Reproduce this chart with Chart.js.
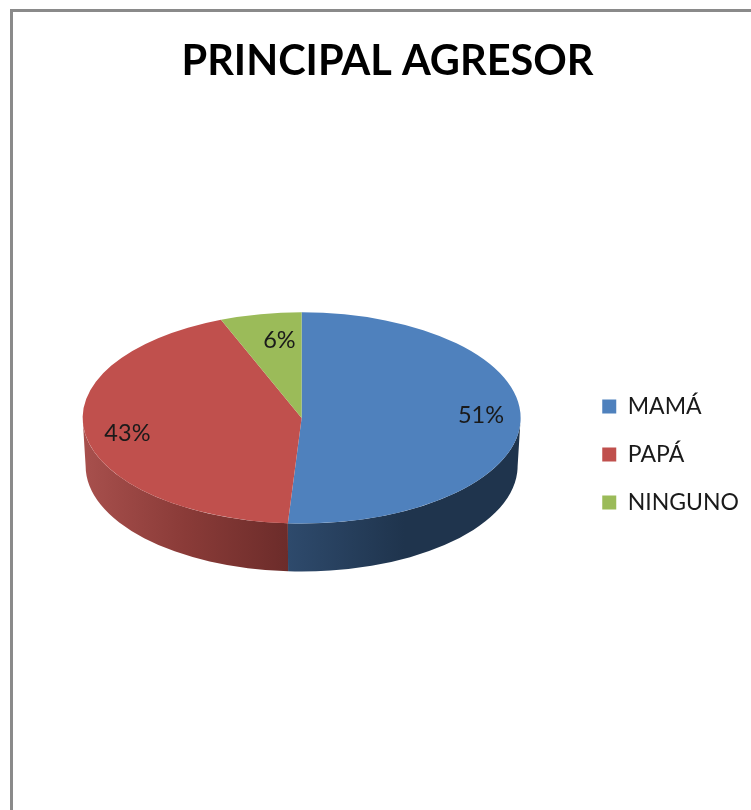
<!DOCTYPE html>
<html lang="es">
<head>
    <meta charset="UTF-8">
    <title>Principal agresor</title>
    <script src="https://cdn.jsdelivr.net/npm/chart.js"></script>
    <style>
        html, body { margin: 0; padding: 0; background: #fff; overflow: hidden; height: 810px; }
        #frame { position: absolute; left: 10px; top: 9px; width: 760px; height: 900px; border: 3px solid #8a8a8a; box-sizing: border-box; }
        #chart { position: absolute; left: 0; top: 0; }
    </style>
</head>
<body>
    <div id="frame"></div>
    <canvas id="chart" width="751" height="810"></canvas>

    <script>
        const categories = ["MAMÁ", "PAPÁ", "NINGUNO"];
        const values = [51, 43, 6];
        const colors = ["#4f81bd", "#c0504d", "#9bbb59"];
        const sideColors = [["#2e4a6c", "#1f344d", "#1f344d"], ["#a8504d", "#8a3b38", "#6c2c2a"], ["#9bbb59", "#9bbb59", "#9bbb59"]];

        const squash = 0.482;
        const depth = 48;
        // nudges for the percent labels, the reference has them placed by hand
        const labelShift = [[2, -5], [1, 2], [11, 7]];

        const tilt = {
            id: "tilt",
            afterLayout(chart) {
                // legend sits lower than the pie in the reference
                chart.legend.top += 85;
                chart.legend.bottom += 85;
                chart.legend.left -= 2;
                chart.legend.right -= 2;
            },
            beforeDatasetsDraw(chart) {
                const ctx = chart.ctx;
                chart.getDatasetMeta(0).data.forEach((arc, i) => {
                    const from = Math.max(arc.startAngle, 0);
                    const to = Math.min(arc.endAngle, Math.PI);
                    if (to <= from) return;
                    const rx = arc.outerRadius;
                    const ry = rx * squash;
                    const x0 = arc.x + rx * Math.cos(to);
                    const x1 = arc.x + rx * Math.cos(from);
                    const grad = ctx.createLinearGradient(x0, 0, x1, 0);
                    sideColors[i].forEach((c, k) => grad.addColorStop(k / 2, c));
                    ctx.save();
                    ctx.beginPath();
                    ctx.ellipse(arc.x, arc.y, rx, ry, 0, from, to);
                    ctx.ellipse(arc.x, arc.y + depth, rx - 3, ry, 0, to, from, true);
                    ctx.closePath();
                    ctx.fillStyle = grad;
                    ctx.fill();
                    ctx.restore();
                });
                ctx.save();
                const first = chart.getDatasetMeta(0).data[0];
                ctx.translate(first.x, first.y);
                ctx.scale(1, squash);
                ctx.translate(-first.x, -first.y);
            },
            afterDatasetsDraw(chart) {
                const ctx = chart.ctx;
                ctx.restore();
                ctx.save();
                ctx.font = "23.5px Lato";
                ctx.fillStyle = "#1a1a1a";
                ctx.textAlign = "center";
                ctx.textBaseline = "middle";
                chart.getDatasetMeta(0).data.forEach((arc, i) => {
                    const mid = (arc.startAngle + arc.endAngle) / 2;
                    const r = arc.outerRadius * 0.81;
                    const x = arc.x + r * Math.cos(mid) + labelShift[i][0];
                    const y = arc.y + r * squash * Math.sin(mid) + labelShift[i][1];
                    ctx.fillText(values[i] + "%", x, y);
                });
                ctx.restore();
            }
        };

        new Chart(document.getElementById("chart"), {
            type: "pie",
            data: {
                labels: categories,
                datasets: [{ data: values, backgroundColor: colors, borderWidth: 0, radius: 219 }]
            },
            options: {
                responsive: false,
                animation: false,
                layout: { padding: { left: 24, right: 0, top: 0, bottom: 71 } },
                plugins: {
                    title: {
                        display: true,
                        text: "PRINCIPAL AGRESOR",
                        color: "#000",
                        font: { family: "Lato", size: 41.5, weight: "bold" },
                        padding: { top: 37, bottom: 10 }
                    },
                    legend: {
                        position: "right",
                        labels: {
                            color: "#1a1a1a",
                            font: { family: "Lato", size: 23 },
                            boxWidth: 14,
                            boxHeight: 14,
                            padding: 25
                        }
                    },
                    tooltip: { enabled: false }
                }
            },
            plugins: [tilt]
        });
    </script>
</body>
</html>
